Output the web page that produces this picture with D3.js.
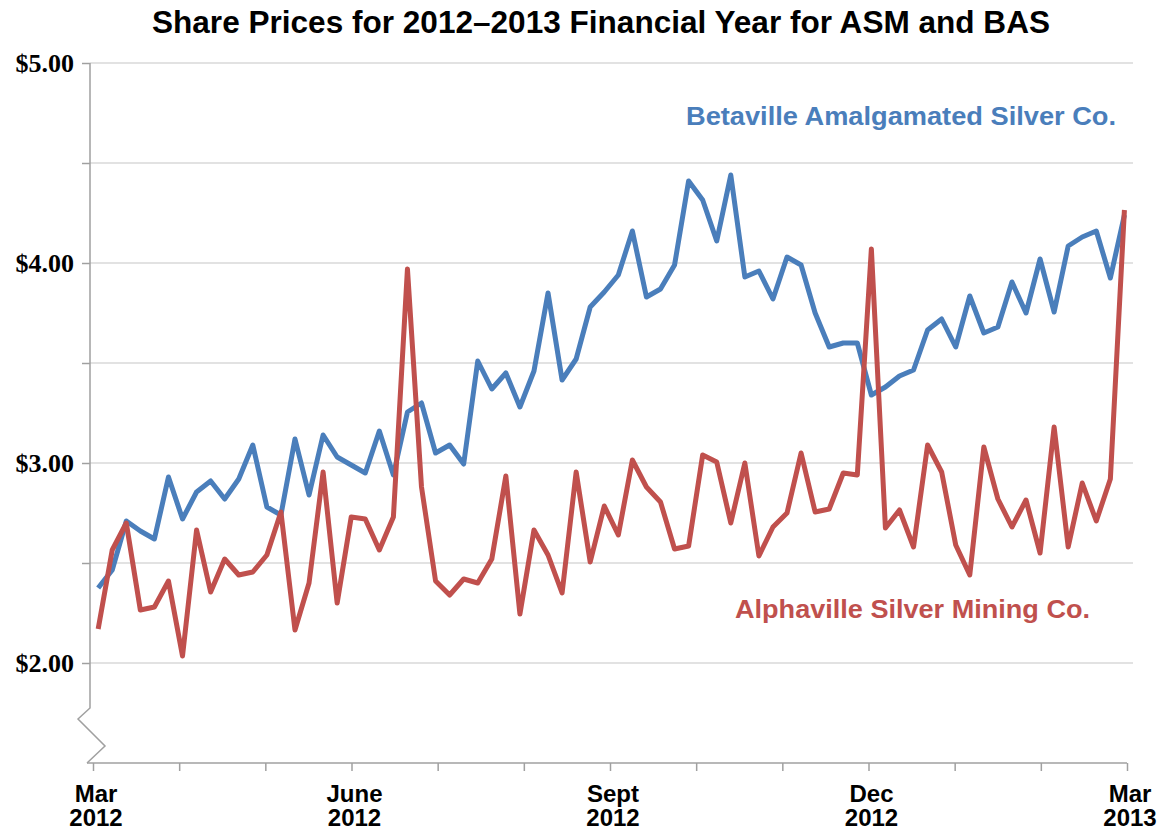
<!DOCTYPE html>
<html lang="en">
	<head>
		<meta charset="utf-8">
		<title>Share Prices ASM and BAS</title>
		<script src="https://d3js.org/d3.v7.min.js"></script>
		<style type="text/css">
			body {
				margin: 0;
				background: white;
			}
			.title {
				font-family: "Liberation Sans", Arial, sans-serif;
				font-weight: bold;
				font-size: 31px;
			}
			.ylab {
				font-family: "Liberation Serif", "Times New Roman", serif;
				font-weight: bold;
				font-size: 26px;
			}
			.xlab {
				font-family: "Liberation Sans", Arial, sans-serif;
				font-weight: bold;
				font-size: 24px;
			}
			.series {
				font-family: "Liberation Sans", Arial, sans-serif;
				font-weight: bold;
				font-size: 26px;
			}
		</style>
	</head>
	<body>
		<script>

			//Width and height
			var w = 1163;
			var h = 831;

			//Month ticks (equally spaced), two-line labels
			var monthTicks = d3.range(0, 13);
			var monthLabels = {0: ["Mar", "2012"], 3: ["June", "2012"], 6: ["Sept", "2012"], 9: ["Dec", "2012"], 12: ["Mar", "2013"]};

			//Price ticks
			var priceTicks = [1.5, 2, 2.5, 3, 3.5, 4, 4.5, 5];
			var priceLabels = [2, 3, 4, 5];

			//First and last observation, in months from Mar 2012
			var obsSpan = [0.06, 11.97];

			//Alphaville Silver Mining Co. (ASM)
			var asm = [2.17, 2.565, 2.70, 2.265, 2.28, 2.41, 2.035, 2.665, 2.355, 2.52,
				2.44, 2.455, 2.54, 2.755, 2.165, 2.40, 2.955, 2.30, 2.73, 2.72,
				2.565, 2.73, 3.97, 2.88, 2.41, 2.34, 2.42, 2.40, 2.52, 2.935,
				2.245, 2.665, 2.54, 2.35, 2.955, 2.505, 2.785, 2.64, 3.015, 2.88,
				2.805, 2.57, 2.585, 3.04, 3.005, 2.70, 3.00, 2.535, 2.68, 2.75,
				3.05, 2.755, 2.77, 2.95, 2.94, 4.07, 2.675, 2.765, 2.58, 3.09,
				2.955, 2.59, 2.44, 3.08, 2.82, 2.68, 2.815, 2.55, 3.18, 2.58,
				2.90, 2.71, 2.92, 4.265];

			//Betaville Amalgamated Silver Co. (BAS)
			var bas = [2.375, 2.465, 2.71, 2.66, 2.62, 2.93, 2.72, 2.855, 2.91, 2.82,
				2.92, 3.09, 2.78, 2.74, 3.12, 2.84, 3.14, 3.03, 2.99, 2.95,
				3.16, 2.94, 3.255, 3.30, 3.05, 3.09, 2.995, 3.51, 3.37, 3.45,
				3.28, 3.46, 3.85, 3.415, 3.52, 3.78, 3.855, 3.94, 4.16, 3.83,
				3.87, 3.99, 4.41, 4.315, 4.11, 4.44, 3.93, 3.96, 3.82, 4.03,
				3.99, 3.75, 3.58, 3.60, 3.60, 3.34, 3.38, 3.435, 3.465, 3.665,
				3.72, 3.58, 3.835, 3.65, 3.68, 3.905, 3.75, 4.02, 3.755, 4.085,
				4.13, 4.16, 3.925, 4.24];

			var red = "#c0504d";
			var blue = "#4a7ebb";
			var axisGrey = "#a0a0a0";
			var gridGrey = "#d9d9d9";

			var svg = d3.select("body")
						.append("svg")
						.attr("width", w)
						.attr("height", h);

			//Scales
			var xScale = d3.scaleLinear().domain([0, 12]).range([93, 1127]);
			var yScale = d3.scaleLinear().domain([1.5, 5]).range([763, 63]);
			var xIdx = d3.scaleLinear()
						.domain([0, asm.length - 1])
						.range([xScale(obsSpan[0]), xScale(obsSpan[1])]);

			var axisX = 90;

			//Gridlines
			svg.selectAll("line.grid")
				.data(priceTicks.filter(function(d) { return d > 1.5; }))
				.enter()
				.append("line")
				.attr("class", "grid")
				.attr("x1", axisX)
				.attr("x2", 1133)
				.attr("y1", function(d) { return yScale(d); })
				.attr("y2", function(d) { return yScale(d); })
				.attr("stroke", gridGrey)
				.attr("stroke-width", 1.5);

			//Y axis (with break)
			var yAxis = d3.axisLeft(yScale)
						.tickValues(priceTicks.filter(function(d) { return d > 1.5; }))
						.tickSize(8)
						.tickFormat("");
			var gy = svg.append("g")
						.attr("transform", "translate(" + axisX + ",0)")
						.call(yAxis);
			gy.select(".domain").remove();
			gy.selectAll(".tick line").attr("stroke", axisGrey).attr("stroke-width", 1.5);

			var yb = yScale(1.5);
			svg.append("path")
				.attr("d", "M" + axisX + "," + yScale(5) +
					"L" + axisX + "," + (yb - 55) +
					"L" + (axisX - 12) + "," + (yb - 44) +
					"L" + (axisX + 15) + "," + (yb - 17) +
					"L" + (axisX - 3) + "," + yb)
				.attr("fill", "none")
				.attr("stroke", axisGrey)
				.attr("stroke-width", 1.5);

			svg.selectAll("text.ylab")
				.data(priceLabels)
				.enter()
				.append("text")
				.attr("class", "ylab")
				.attr("x", 74)
				.attr("y", function(d) { return yScale(d) + 9; })
				.attr("text-anchor", "end")
				.text(function(d) { return "$" + d.toFixed(2); });

			//X axis
			var xAxis = d3.axisBottom(xScale)
						.tickValues(monthTicks)
						.tickSize(8)
						.tickFormat("");
			var gx = svg.append("g")
						.attr("transform", "translate(0," + yb + ")")
						.call(xAxis);
			gx.select(".domain").remove();
			gx.selectAll(".tick line").attr("stroke", axisGrey).attr("stroke-width", 1.5);
			svg.append("line")
				.attr("x1", axisX - 3)
				.attr("x2", xScale(12))
				.attr("y1", yb)
				.attr("y2", yb)
				.attr("stroke", axisGrey)
				.attr("stroke-width", 1.5);

			var xl = svg.selectAll("text.xlab")
				.data(Object.keys(monthLabels).map(Number))
				.enter()
				.append("text")
				.attr("class", "xlab")
				.attr("text-anchor", "middle");
			xl.append("tspan")
				.attr("x", function(d) { return xScale(d) + 3; })
				.attr("y", 802)
				.text(function(d) { return monthLabels[d][0]; });
			xl.append("tspan")
				.attr("x", function(d) { return xScale(d) + 3; })
				.attr("y", 826)
				.text(function(d) { return monthLabels[d][1]; });

			//Lines
			var line = d3.line()
						.x(function(d, i) { return xIdx(i); })
						.y(function(d) { return yScale(d); });

			svg.append("path")
				.datum(bas)
				.attr("d", line)
				.attr("fill", "none")
				.attr("stroke", blue)
				.attr("stroke-width", 5)
				.attr("stroke-linejoin", "round");

			svg.append("path")
				.datum(asm)
				.attr("d", line)
				.attr("fill", "none")
				.attr("stroke", red)
				.attr("stroke-width", 5)
				.attr("stroke-linejoin", "round");

			//Series labels
			svg.append("text")
				.attr("class", "series")
				.attr("x", 686)
				.attr("y", 125)
				.attr("textLength", 430)
				.attr("lengthAdjust", "spacingAndGlyphs")
				.attr("fill", blue)
				.text("Betaville Amalgamated Silver Co.");

			svg.append("text")
				.attr("class", "series")
				.attr("x", 735)
				.attr("y", 618)
				.attr("textLength", 355)
				.attr("lengthAdjust", "spacingAndGlyphs")
				.attr("fill", red)
				.text("Alphaville Silver Mining Co.");

			//Title
			svg.append("text")
				.attr("class", "title")
				.attr("x", 152)
				.attr("y", 33)
				.attr("textLength", 898)
				.attr("lengthAdjust", "spacingAndGlyphs")
				.text("Share Prices for 2012\u20132013 Financial Year for ASM and BAS");

		</script>
	</body>
</html>
